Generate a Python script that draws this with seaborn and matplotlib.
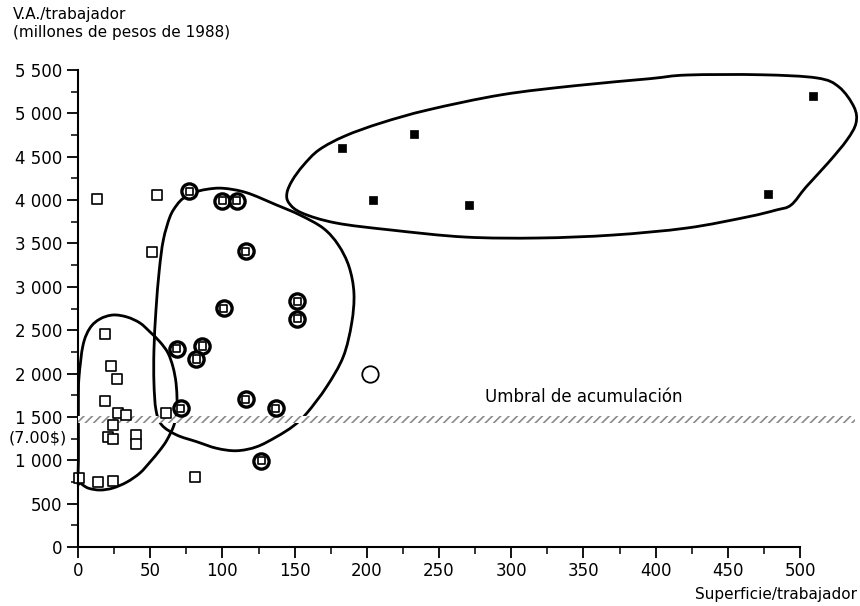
import numpy as np
import pandas as pd
import seaborn as sns
import matplotlib.pyplot as plt
from matplotlib.path import Path
from matplotlib.patches import PathPatch
from matplotlib.ticker import MultipleLocator, FuncFormatter

# --- data ---
open_sq_x = [13, 55, 51, 19, 23, 27, 19, 27.5, 33.5, 24, 21, 24.5, 40, 40, 1, 14, 24.5, 61, 81]
open_sq_y = [4015, 4060, 3400, 2460, 2087, 1933, 1680, 1540, 1520, 1407, 1272, 1242, 1290, 1184, 800, 745, 760, 1541, 810]

ring_x = [77, 100, 110, 116, 101, 152, 152, 68.5, 86, 82, 71, 116, 137, 127]
ring_y = [4100, 3990, 3990, 3410, 2755, 2835, 2630, 2285, 2318, 2168, 1600, 1706, 1600, 995]

lone_x = [202]
lone_y = [1995]

filled_x = [183, 204, 233, 271, 478, 509]
filled_y = [4600, 4000, 4760, 3945, 4070, 5200]

# hand-drawn group outlines (data units)
group1 = [(0, 738), (0.3, 1003), (0.3, 1349), (0.3, 1695), (0.7, 1960), (3.5, 2329), (8.3, 2525),
          (15.2, 2629), (24.2, 2675), (33.9, 2652), (42.9, 2583), (49.9, 2479), (56.8, 2364),
          (62.3, 2237), (65.8, 2075), (67.9, 1891), (68.6, 1695), (68.6, 1580), (66.5, 1407),
          (61.6, 1234), (56.8, 1118), (49.9, 980), (42.9, 853), (33.9, 749), (24.2, 680),
          (15.2, 657), (6.9, 680), (1.4, 738)]
group2 = [(72.9, 4021), (79.8, 4085), (89.1, 4124), (100.6, 4136), (116.8, 4085), (137.6, 3943),
          (153.7, 3828), (169.9, 3675), (180.3, 3482), (187.7, 3232), (191.1, 2925), (189.5, 2579),
          (183.7, 2194), (172.2, 1848), (158.4, 1542), (149.1, 1395), (137.6, 1272), (123.8, 1156),
          (109.9, 1110), (96.1, 1138), (82.2, 1214), (68.4, 1291), (58.0, 1407), (54.0, 1580),
          (52.6, 1891), (52.6, 2271), (54.0, 2733), (56.3, 3194), (59.1, 3540), (63.7, 3808),
          (68.4, 3943)]
group3 = [(144.7, 4082), (148.5, 4230), (156.0, 4400), (167.0, 4580), (185.0, 4740), (210.0, 4890),
          (242.4, 5040), (293.6, 5215), (344.9, 5320), (396.1, 5400), (421.7, 5442), (473.0, 5445),
          (511.8, 5408), (527.0, 5304), (537.4, 5073), (538.8, 4889), (532.5, 4693), (519.4, 4428),
          (504.2, 4151), (493.8, 3943), (483.4, 3885), (463.3, 3805), (421.7, 3678), (370.5, 3597),
          (319.3, 3563), (268.0, 3574), (216.8, 3655), (178.7, 3736), (155.1, 3851), (146.1, 3966)]

band_lo, band_hi, band_end = 1430, 1510, 538
threshold_label = "Umbral de acumulación"

sns.set_theme(style="ticks")
plt.rcParams["font.family"] = ["DejaVu Sans"]
plt.rcParams["text.color"] = "black"
plt.rcParams["hatch.linewidth"] = 1.2

fig = plt.figure(figsize=(8.6, 6.06), dpi=100)
ax = fig.add_axes([78 / 860, 59 / 606, 722 / 860, 477 / 606])


def closed_curve(pts):
    # closed Catmull-Rom outline turned into cubic Bezier segments
    p = np.asarray(pts, float)
    n = len(p)
    verts = [p[0]]
    codes = [Path.MOVETO]
    for i in range(n):
        p0, p1, p2, p3 = p[i - 1], p[i], p[(i + 1) % n], p[(i + 2) % n]
        verts += [p1 + (p2 - p0) / 6, p2 - (p3 - p1) / 6, p2]
        codes += [Path.CURVE4] * 3
    return PathPatch(Path(verts, codes), fill=False, lw=2.0, ec="black", clip_on=False, zorder=2)


for g in (group1, group2, group3):
    ax.add_patch(closed_curve(g))

# threshold band
ax.fill_between([0, band_end], band_lo, band_hi, facecolor="white", edgecolor="#8a8a8a",
                hatch="////", linewidth=0, clip_on=False, zorder=3)

sq = pd.DataFrame({"x": open_sq_x, "y": open_sq_y})
rings = pd.DataFrame({"x": ring_x, "y": ring_y})
filled = pd.DataFrame({"x": filled_x, "y": filled_y})
lone = pd.DataFrame({"x": lone_x, "y": lone_y})

kw = dict(ax=ax, legend=False, clip_on=False, zorder=4)
sns.scatterplot(data=sq, x="x", y="y", marker="s", s=42, facecolor="white", edgecolor="black", linewidth=1.2, **kw)
sns.scatterplot(data=rings, x="x", y="y", marker="o", s=120, facecolor="white", edgecolor="black", linewidth=2.4, **kw)
sns.scatterplot(data=rings, x="x", y="y", marker="s", s=26, facecolor="none", edgecolor="black", linewidth=1.2, **kw)
sns.scatterplot(data=filled, x="x", y="y", marker="s", s=40, color="black", edgecolor="black", **kw)
sns.scatterplot(data=lone, x="x", y="y", marker="o", s=140, facecolor="white", edgecolor="black", linewidth=1.3, **kw)

ax.set_xlim(0, 500)
ax.set_ylim(0, 5500)
ax.xaxis.set_major_locator(MultipleLocator(50))
ax.xaxis.set_minor_locator(MultipleLocator(25))
ax.yaxis.set_major_locator(MultipleLocator(500))
ax.yaxis.set_minor_locator(MultipleLocator(250))
ax.yaxis.set_major_formatter(FuncFormatter(lambda v, p: f"{int(v):,}".replace(",", " ")))
ax.tick_params(which="major", direction="out", length=8, width=1.3, labelsize=12, pad=3,
               colors="black", labelcolor="black")
ax.tick_params(which="minor", direction="out", length=5, width=1.1, colors="black")
ax.set_xlabel("")
ax.set_ylabel("")

for side in ("top", "right"):
    ax.spines[side].set_visible(False)
for side in ("left", "bottom"):
    ax.spines[side].set_linewidth(1.5)
    ax.spines[side].set_color("black")
# left axis is broken across the threshold band
ax.spines["left"].set_bounds(band_hi, 5500)
ax.vlines(0, 0, band_lo, color="black", lw=1.5, clip_on=False, zorder=5)

ax.text(-7.5, 1255, "(7.00$)", ha="right", va="center", fontsize=11.5, clip_on=False)
ax.text(282, 1730, threshold_label, ha="left", va="center", fontsize=12)

fig.text(13 / 860, 1 - 15 / 606, "V.A./trabajador", ha="left", va="center", fontsize=11)
fig.text(13 / 860, 1 - 33 / 606, "(millones de pesos de 1988)", ha="left", va="center", fontsize=11)
fig.text(857 / 860, 1 - 595 / 606, "Superficie/trabajador", ha="right", va="center", fontsize=11)

fig.savefig("out.png", dpi=100)
